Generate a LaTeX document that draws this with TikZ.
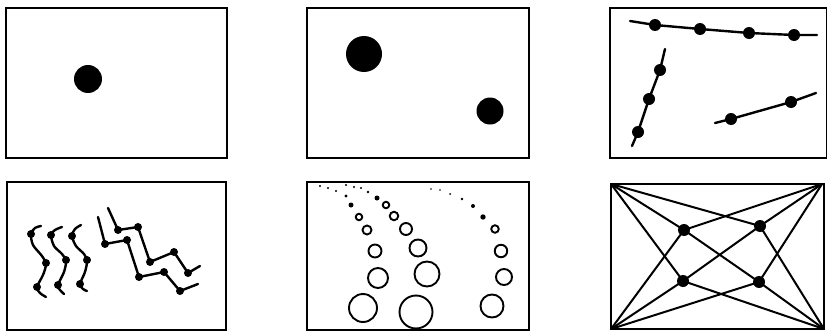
\documentclass[tikz,border=0pt]{standalone}
\begin{document}
\begin{tikzpicture}[x=1pt,y=-1pt,
  panel/.style={draw=black, line width=1.6pt},
  dot/.style={circle, fill=black, inner sep=0pt, minimum size=#1},
  ring/.style={circle, draw=black, line width=1.9pt, inner sep=0pt, minimum size=#1},
  stroke/.style={line width=#1, line cap=round, line join=round},
  stroke/.default=2.4pt]
\useasboundingbox (0,0) rectangle (827,332);
% frames
\draw[panel] (6,8) rectangle (227,158);
\draw[panel] (307,8) rectangle (529,158);
\draw[panel] (610,8) rectangle (827,158);
\draw[panel] (7,182) rectangle (226,330);
\draw[panel] (307,182) rectangle (529,330);
\draw[panel] (611,184) rectangle (824,329);

% panel 1
\node[dot=28pt] (p1a) at (88,79) {};
% panel 2
\node[dot=36pt] (p2a) at (364,54) {};
\node[dot=27pt] (p2b) at (490,111) {};

% panel 3
\coordinate (t0) at (630,21);
\coordinate (t5) at (817,35);
\coordinate (t1) at (655,25);
\coordinate (t2) at (700,29);
\coordinate (t3) at (749,33);
\coordinate (t4) at (794,35);
\draw[stroke] (t0) -- (t1) -- (t2) -- (t3) -- (t4) -- (t5);
\foreach \n in {t1,t2,t3,t4} \node[dot=12pt] (d\n) at (\n) {};
\coordinate (l0) at (665,49);
\coordinate (l1) at (660,70);
\coordinate (l2) at (649,99);
\coordinate (l3) at (638,132);
\coordinate (l4) at (632,146);
\draw[stroke] (l0) -- (l1) -- (l2) -- (l3) -- (l4);
\foreach \n in {l1,l2,l3} \node[dot=12pt] (d\n) at (\n) {};
\coordinate (r0) at (715,123);
\coordinate (r1) at (731,119);
\coordinate (r2) at (791,102);
\coordinate (r3) at (816,93);
\draw[stroke] (r0) -- (r1) -- (r2) -- (r3);
\foreach \n in {r1,r2} \node[dot=12pt] (d\n) at (\n) {};

% panel 4: wiggles
\draw[stroke] plot[smooth] coordinates {(41,226) (35,228) (31,234) (33,245) (42,256) (46,264) (43,275) (37,287) (40,293) (46,297)};
\node[dot=8pt] (w1a) at (31,234) {};
\node[dot=8pt] (w1b) at (46,263) {};
\node[dot=8pt] (w1c) at (37,287) {};
\draw[stroke] plot[smooth] coordinates {(62,227) (55,230) (51,235) (54,246) (62,254) (66,261) (64,272) (58,285) (60,290) (64,294)};
\node[dot=8pt] (w2a) at (51,235) {};
\node[dot=8pt] (w2b) at (66,260) {};
\node[dot=8pt] (w2c) at (58,285) {};
\draw[stroke] plot[smooth] coordinates {(81,225) (75,229) (72,236) (76,246) (84,254) (87,261) (85,272) (80,284) (83,289) (87,291)};
\node[dot=8pt] (w3a) at (72,236) {};
\node[dot=8pt] (w3b) at (87,260) {};
\node[dot=8pt] (w3c) at (80,284) {};
% zigzags
\coordinate (u0) at (108,208);
\coordinate (u1) at (118,230);
\coordinate (u2) at (138,227);
\coordinate (u3) at (150,262);
\coordinate (u4) at (174,252);
\coordinate (u5) at (188,273);
\coordinate (u6) at (200,266);
\draw[stroke] (u0) -- (u1) -- (u2) -- (u3) -- (u4) -- (u5) -- (u6);
\foreach \n in {u1,u2,u3,u4,u5} \node[dot=8pt] (d\n) at (\n) {};
\coordinate (v0) at (98,217);
\coordinate (v1) at (105,244);
\coordinate (v2) at (127,240);
\coordinate (v3) at (139,277);
\coordinate (v4) at (164,272);
\coordinate (v5) at (180,291);
\coordinate (v6) at (198,284);
\draw[stroke] (v0) -- (v1) -- (v2) -- (v3) -- (v4) -- (v5) -- (v6);
\foreach \n in {v1,v2,v3,v4,v5} \node[dot=8pt] (d\n) at (\n) {};

% panel 5: trails of circles
% column A
\node[dot=2.2pt] (a1) at (320,186) {};
\node[dot=2.2pt] (a2) at (328,188) {};
\node[dot=2.4pt] (a3) at (336,191) {};
\node[dot=3.4pt] (a4) at (346,196) {};
\node[dot=5pt] (a5) at (351,205) {};
\node[ring=6.5pt] (a6) at (359,217) {};
\node[ring=9pt] (a7) at (367,230) {};
\node[ring=13pt] (a8) at (375,251) {};
\node[ring=20pt] (a9) at (378,278) {};
\node[ring=28pt] (a10) at (363,308) {};
% column B
\node[dot=2.2pt] (b1) at (346,185) {};
\node[dot=2.2pt] (b2) at (354,187) {};
\node[dot=2.4pt] (b3) at (361,188) {};
\node[dot=2.6pt] (b4) at (368,192) {};
\node[dot=5pt] (b5) at (377,198) {};
\node[ring=6.5pt] (b6) at (386,205) {};
\node[ring=8.5pt] (b7) at (394,216) {};
\node[ring=12pt] (b8) at (406,229) {};
\node[ring=17pt] (b9) at (418,248) {};
\node[ring=25pt] (b10) at (427,274) {};
\node[ring=33pt] (b11) at (416,312) {};
% column C
\node[dot=1.6pt] (c1) at (431,189) {};
\node[dot=1.6pt] (c2) at (440,190) {};
\node[dot=2pt] (c3) at (450,194) {};
\node[dot=2.6pt] (c4) at (462,199) {};
\node[dot=4pt] (c5) at (473,206) {};
\node[dot=5.4pt] (c6) at (483,217) {};
\node[ring=7.5pt] (c7) at (495,229) {};
\node[ring=12.5pt] (c8) at (501,251) {};
\node[ring=16pt] (c9) at (504,277) {};
\node[ring=23pt] (c10) at (492,306) {};

% panel 6: web
\coordinate (TL) at (611,184);
\coordinate (TR) at (822,184);
\coordinate (BL) at (611,329);
\coordinate (BR) at (824,329);
\node[dot=12pt] (A) at (684,230) {};
\node[dot=12pt] (B) at (760,226) {};
\node[dot=12pt] (C) at (683,281) {};
\node[dot=12pt] (D) at (759,282) {};
\draw[stroke=2pt] (TL) -- (A.center) -- (D.center) -- (BR);
\draw[stroke=2pt] (TL) -- (B.center) -- (BR);
\draw[stroke=2pt] (TL) -- (C.center) -- (BR);
\draw[stroke=2pt] (TR) -- (B.center) -- (C.center) -- (BL);
\draw[stroke=2pt] (TR) -- (A.center) -- (BL);
\draw[stroke=2pt] (TR) -- (D.center) -- (BL);
\end{tikzpicture}
\end{document}
